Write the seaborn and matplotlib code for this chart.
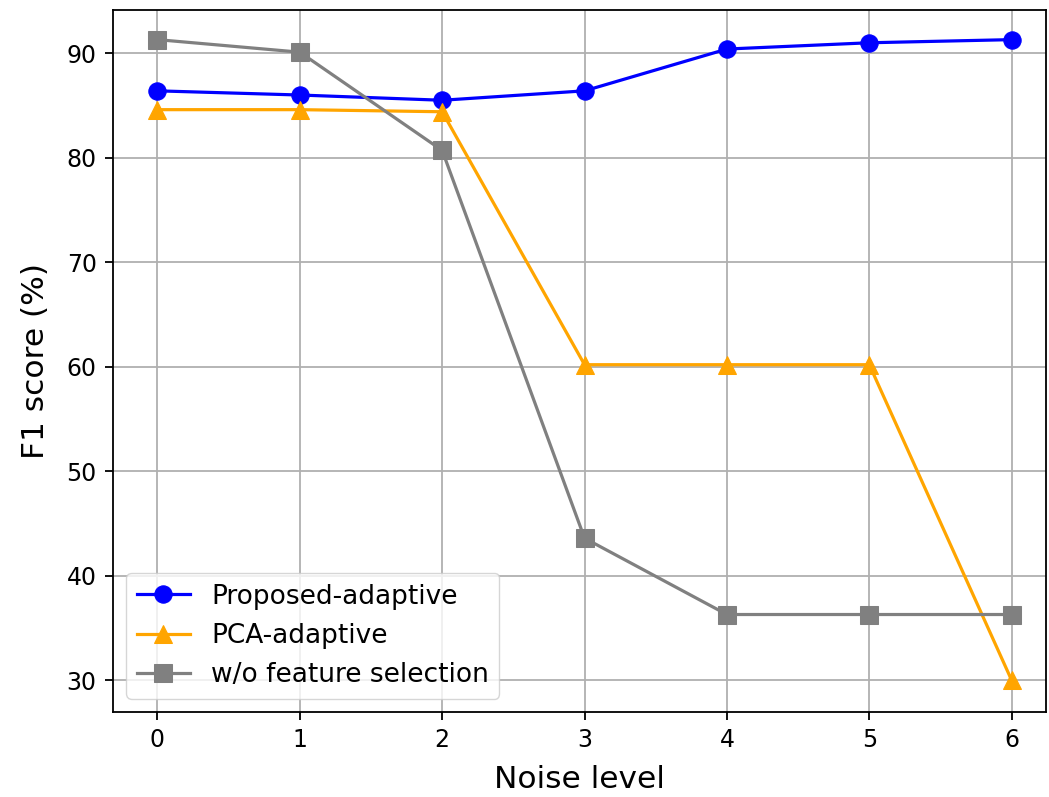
import numpy as np
import pandas as pd
import matplotlib
matplotlib.use("Agg")
import matplotlib.pyplot as plt
import seaborn as sns

# Données
noise_levels = [0, 1, 2, 3, 4, 5, 6]
proposed_adaptive = [86.4, 86.0, 85.5, 86.4, 90.4, 91.0, 91.3]
pca_adaptive = [84.6, 84.6, 84.4, 60.2, 60.2, 60.2, 30.0]
wo_feature_selection = [91.3, 90.1, 80.7, 43.6, 36.3, 36.3, 36.3]

series_names = ["Proposed-adaptive", "PCA-adaptive", "w/o feature selection"]
series_values = [proposed_adaptive, pca_adaptive, wo_feature_selection]
colors = ["blue", "orange", "gray"]
markers = ["o", "^", "s"]

fig = plt.figure(figsize=(10.49, 7.97), dpi=100)
ax = fig.add_axes([0.108, 0.107, 0.889, 0.880])

for name, vals, c, m in zip(series_names, series_values, colors, markers):
    df = pd.DataFrame({"noise": noise_levels, "f1": vals})
    sns.lineplot(data=df, x="noise", y="f1", ax=ax, color=c, marker=m,
                 markersize=12.5, linewidth=2.3, markeredgecolor=c, label=name)

ax.set_xticks(noise_levels)
ax.set_yticks([30, 40, 50, 60, 70, 80, 90])
ax.set_xlim(-0.31, 6.24)
ax.set_ylim(27.0, 94.1)
ax.tick_params(labelsize=17, length=6, width=1.3, pad=6)
ax.set_xlabel("Noise level", fontsize=22.5, labelpad=9)
ax.set_ylabel("F1 score (%)", fontsize=22.5, labelpad=12)
ax.grid(True, color="#b0b0b0", linewidth=1.3)
for s in ax.spines.values():
    s.set_linewidth(1.3)
ax.legend(loc="lower left", fontsize=19)

plt.savefig("out.png", dpi=100)
